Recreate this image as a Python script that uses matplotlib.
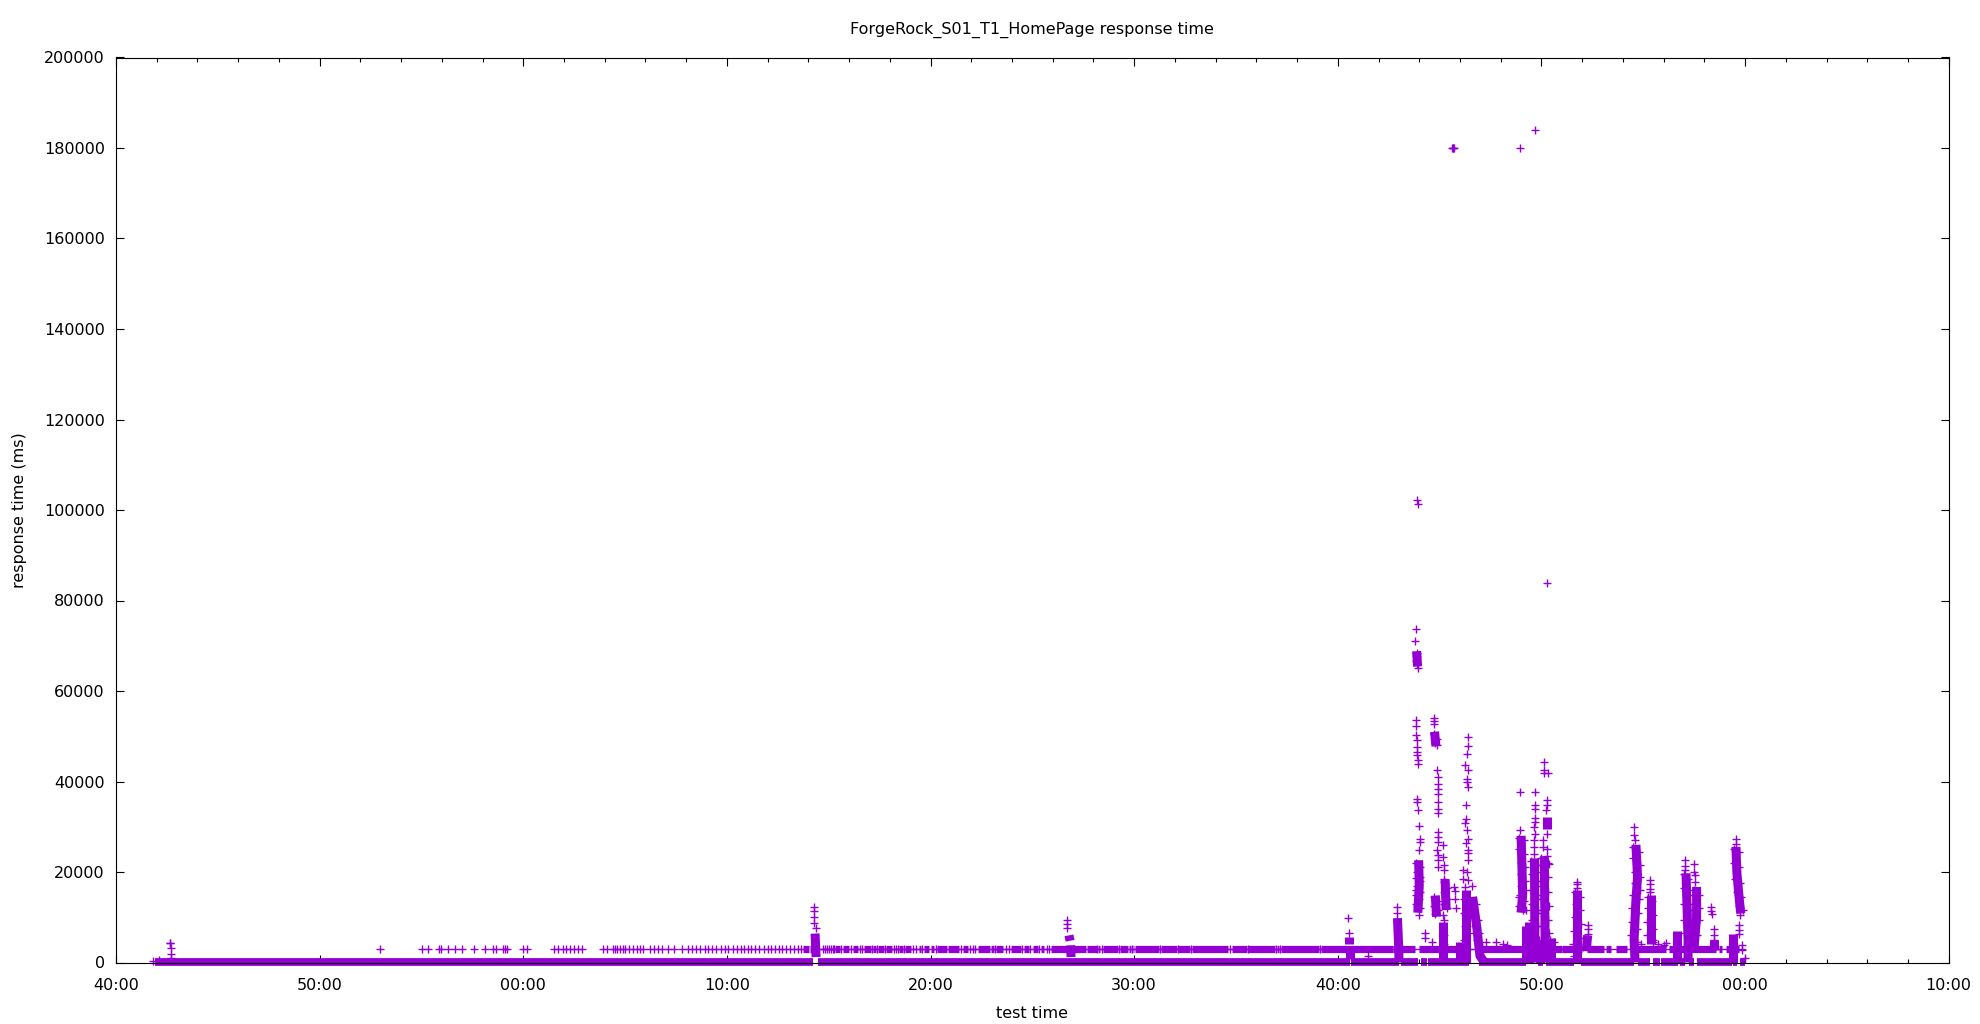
import matplotlib
matplotlib.use('Agg')
import matplotlib.pyplot as plt

PURPLE = '#9400d3'

x_tick_labels = ['40:00', '50:00', '00:00', '10:00', '20:00', '30:00', '40:00', '50:00', '00:00', '10:00']
y_ticks = [0, 20000, 40000, 60000, 80000, 100000, 120000, 140000, 160000, 180000, 200000]

# all times are minutes after the first x tick, values are ms
# solid stretches of the ~0 ms band, marks overlap completely here
base_runs = [(1.9, 34.25), (34.45, 60.6), (60.65, 62.99), (63.1, 63.92), (64.09, 64.36), (64.41, 66.46),
             (66.95, 69.24), (69.81, 70.06), (70.22, 71.6), (71.93, 74.55), (74.76, 75.34), (75.48, 75.81),
             (75.86, 76.71), (76.79, 77.05), (77.25, 77.5), (77.66, 79.38), (79.41, 79.62), (79.75, 80.0)]

# solid stretches of the ~3100 ms band
band_level = 3090
band_runs = [(33.73, 34.05), (34.09, 34.22), (35.33, 35.56), (35.69, 36.02), (36.21, 36.44), (36.75, 37.08),
             (37.16, 37.33), (37.41, 37.73), (37.82, 38.11), (38.47, 38.63), (38.77, 39.04), (39.42, 39.54),
             (39.7, 39.94), (40.03, 40.19), (40.3, 40.81), (40.88, 41.42), (41.61, 41.83), (42.32, 42.92),
             (42.97, 43.13), (43.22, 43.58), (43.95, 44.44), (44.61, 44.82), (45.02, 45.26), (45.43, 45.59),
             (45.92, 47.63), (47.67, 48.16), (48.2, 48.33), (48.46, 49.23), (49.28, 49.72), (49.77, 49.83),
             (49.93, 50.0), (50.05, 51.24), (51.31, 52.09), (52.17, 52.75), (52.83, 54.63), (54.79, 55.53),
             (55.61, 56.92), (57.0, 57.13), (57.2, 59.09), (59.16, 62.73), (62.73, 63.8), (64.0, 65.2),
             (65.3, 66.0), (67.1, 69.1), (69.5, 71.0), (71.0, 72.0), (72.26, 73.08), (73.16, 73.41),
             (73.65, 74.22), (74.47, 76.1), (76.27, 78.56), (78.72, 78.89), (79.05, 79.7)]

# isolated marks on the same band
band_marks = [12.95, 15.04, 15.3, 15.85, 15.95, 16.3, 16.66, 16.97, 17.6, 18.1, 18.5, 18.64, 19.0, 19.08, 19.2,
              20.0, 20.2, 21.5, 21.7, 21.95, 22.1, 22.3, 22.5, 22.7, 22.9, 23.9, 24.1, 24.4, 24.5, 24.6, 24.75,
              24.9, 25.0, 25.2, 25.4, 25.6, 25.75, 25.9, 26.2, 26.4, 26.6, 26.8, 27.1, 27.4, 27.8, 28.1, 28.3,
              28.5, 28.7, 28.9, 29.05, 29.25, 29.45, 29.7, 29.9, 30.05, 30.3, 30.5, 30.7, 30.85, 31.05, 31.2,
              31.4, 31.6, 31.8, 32.0, 32.15, 32.35, 32.55, 32.7, 32.9, 33.1, 33.3, 33.5, 33.65, 34.71, 34.8,
              34.9, 35.0, 35.1, 35.2, 35.28, 35.6, 36.1, 36.55, 36.65, 37.12, 37.37, 37.78, 38.2, 38.3, 38.4,
              38.7, 39.15, 39.3, 39.6, 40.25, 41.5, 41.95, 42.1, 42.2, 43.18, 43.7, 43.85, 44.5, 44.9, 45.35,
              45.7, 45.8, 48.18, 48.4, 49.25, 49.88, 51.27, 52.13, 52.8, 54.7, 55.57, 56.96, 57.17, 59.13]

# stretches of a spike where the marks merge, each one a list of (time, value) corners
columns = [
    [(63.87, 68800), (63.92, 65400)],
    [(63.97, 22600), (64.0, 17000), (63.93, 11000)],
    [(62.93, 9800), (63.0, 2500), (63.0, 0)],
    [(64.75, 51000), (64.82, 47800)],
    [(64.79, 14800), (64.85, 10100)],
    [(65.27, 18400), (65.32, 11600)],
    [(65.15, 9000), (65.15, 500)],
    [(66.3, 16000), (66.3, 0)],
    [(66.0, 4500), (66.0, 0)],
    [(66.62, 14500), (66.82, 8000), (66.98, 1500), (67.2, 0)],
    [(69.0, 28000), (69.05, 20000), (69.08, 15000), (69.0, 11000)],
    [(69.25, 8000), (69.25, 0)],
    [(69.4, 9000), (69.4, 0)],
    [(69.66, 23000), (69.68, 0)],
    [(69.95, 5000), (69.95, 0)],
    [(70.25, 32200), (70.25, 29600)],
    [(70.14, 23500), (70.18, 5000), (70.18, 0)],
    [(70.45, 5500), (70.45, 0)],
    [(71.77, 16000), (71.77, 0)],
    [(72.27, 6000), (72.2, 2500)],
    [(74.64, 26000), (74.72, 18900), (74.64, 13770), (74.55, 5000), (74.6, 0)],
    [(75.36, 14900), (75.36, 4000)],
    [(76.65, 7000), (76.65, 0)],
    [(77.1, 19700), (77.2, 5000), (77.2, 0)],
    [(77.62, 16700), (77.62, 10000), (77.5, 3500)],
    [(78.45, 5000), (78.45, 2800)],
    [(79.55, 25550), (79.6, 19700), (79.72, 13770), (79.79, 10820)],
    [(79.42, 6400), (79.42, 0)],
    [(34.33, 6400), (34.38, 1200)],
    [(46.8, 6000), (46.85, 4800)],
    [(46.88, 3800), (46.9, 1200)],
    [(60.57, 5700), (60.57, 4180)],
    [(60.6, 2700), (60.6, 880)],
]

# single marks that stand clear of the solid stretches
spike_t = [63.87, 63.94, 63.84, 63.81, 63.87, 63.87, 63.84, 63.9, 63.94,
           63.84, 63.84, 63.84, 63.87, 63.9, 63.87, 63.87, 63.92, 63.94,
           63.89, 63.89, 63.94, 63.97, 64.03, 64.03, 63.97, 63.85, 63.85, 63.83, 64.05, 63.97,
           62.89, 62.89, 62.92,
           64.71, 64.71, 64.71, 64.87, 64.9, 64.92, 64.92, 64.92, 64.92, 64.92, 64.92,
           64.9, 64.9, 64.92, 64.85, 64.92, 64.92, 64.92, 65.15, 65.18, 65.23, 65.23, 65.23,
           65.15, 65.23, 65.18, 65.23, 65.2, 64.28, 64.28, 64.61, 65.69, 65.75, 65.75, 65.8,
           66.39, 66.39, 66.33, 66.26, 66.38, 66.36, 66.36, 66.39, 66.29, 66.26, 66.29, 66.33,
           66.38, 66.29, 66.38, 66.41, 66.38, 66.16, 66.33, 66.16, 66.38, 66.59, 66.26,
           68.95, 68.95, 69.25, 68.95, 69.68, 69.68, 69.68, 69.66, 69.66, 69.62, 69.66, 69.62, 69.62, 69.62,
           70.14, 70.14, 70.14, 70.32, 70.25, 70.25, 70.22, 70.25, 70.09, 70.09, 70.25, 70.25, 70.38,
           71.77, 71.77, 71.77, 72.27, 72.27, 72.27,
           74.57, 74.57, 74.6, 75.33, 75.33, 75.33, 75.33, 77.04, 77.04, 77.04,
           77.47, 77.47, 77.55, 77.55, 78.35, 78.35, 78.37, 78.45, 78.45, 78.45,
           79.55, 79.55, 79.71, 79.71, 79.71, 79.84, 79.84, 80.0,
           67.28, 67.77, 68.1, 68.3, 75.5, 75.7, 76.0, 76.1,
           2.64, 2.64, 2.7, 2.7, 2.7, 1.82, 2.1,
           34.3, 34.3, 34.3, 34.3, 34.36,
           46.7, 46.7, 46.7, 60.49, 60.57, 61.5,
           65.6, 65.64, 65.67, 65.7, 68.97, 69.66, 70.25]
spike_v = [102170, 101430, 73800, 71080, 68430, 67690, 66660, 66070, 65190,
           53550, 52220, 50235, 49280, 47660, 46550, 45820, 44860, 43830,
           36240, 35500, 33660, 30200, 27400, 26660, 24820, 18600, 16000, 13000, 19000, 10500,
           12300, 10830, 9600,
           54140, 53400, 52670, 42500, 41000, 39550, 38440, 37340, 35500, 34030, 32930,
           28870, 27770, 26660, 24820, 23700, 22610, 21140, 25920, 23350, 21500, 20350, 18560,
           10500, 9350, 7500, 6000, 4000, 6410, 5520, 4560, 16720, 15840, 14140, 12150,
           49870, 47800, 46040, 43600, 42650, 40660, 40000, 38820, 34770, 30860, 31820, 29240,
           27400, 26300, 24820, 24090, 22610, 20550, 20030, 18410, 18200, 17000, 16720,
           37570, 29240, 11560, 15000, 37570, 34770, 34000, 32000, 31000, 30000, 28500, 27000, 25500, 24000,
           44340, 42650, 41920, 41770, 35870, 34770, 33600, 28500, 27000, 25500, 25000, 23500, 21870,
           17820, 17450, 16500, 8245, 7500, 6400,
           29980, 28130, 27030, 18340, 17300, 16350, 15610, 22610, 21290, 20400,
           21720, 20030, 19300, 17820, 12300, 11410, 10680, 7510, 6040, 4930,
           27400, 26290, 8250, 7150, 6400, 3830, 2720, 1000,
           4600, 4500, 4000, 3900, 4500, 4000, 3800, 4200,
           4340, 4200, 3300, 1835, 1020, 360, 650,
           12300, 11400, 10100, 8800, 7725,
           9500, 8600, 7730, 9860, 6500, 1400,
           180000, 180000, 180000, 180000, 180000, 183870, 83970]

# marks along the ragged edges of the solid stretches
edge_t = [63.86, 64.02, 63.88, 64.04, 63.9, 64.02, 63.86, 64.0, 63.88, 64.02,
          64.7, 64.88, 64.72, 64.9, 64.76, 64.72, 64.88, 64.75, 64.88,
          65.2, 65.38, 65.22, 65.38, 65.22, 65.36,
          66.22, 66.4, 66.2, 66.42, 66.25, 66.42, 66.2, 66.45,
          66.55, 66.78, 66.68, 66.9, 66.72, 66.95, 66.85, 67.08,
          68.9, 69.15, 68.92, 69.15, 68.98, 69.2, 68.98, 69.2, 69.0, 69.2, 68.88, 69.15, 68.88, 69.08,
          69.5, 69.82, 69.55, 69.82, 69.52, 69.82, 69.52, 69.85, 69.55, 69.85, 69.45, 69.9,
          70.0, 70.3, 70.0, 70.32, 69.98, 70.32, 70.0, 70.35, 70.02, 70.3, 70.05, 70.35, 70.42, 70.6,
          71.65, 71.9, 71.68, 71.9, 71.65, 71.92, 71.62, 71.95, 71.55, 72.05, 71.6,
          74.5, 74.78, 74.52, 74.82, 74.58, 74.85, 74.6, 74.85, 74.5, 74.78, 74.45, 74.72, 74.45, 74.68,
          74.42, 74.7, 74.9,
          75.25, 75.45, 75.22, 75.48, 75.2, 75.48, 75.18, 75.5,
          77.0, 77.22, 76.98, 77.25, 77.0, 77.3, 77.02, 77.35, 77.05, 77.4, 77.1,
          77.5, 77.75, 77.5, 77.75, 77.52, 77.72, 77.42, 77.65,
          79.45, 79.68, 79.48, 79.7, 79.52, 79.75, 79.6, 79.82, 79.68, 79.88, 79.75]
edge_v = [22000, 21000, 20000, 18000, 17000, 15500, 15000, 14000, 12500, 12000,
          14500, 13500, 12500, 11500, 10800, 50500, 49500, 48500, 48000,
          17800, 16500, 15500, 14000, 13000, 12000,
          14000, 13500, 11000, 10000, 8000, 6500, 5000, 3000,
          13000, 13000, 11000, 9500, 8000, 6500, 5000, 3500,
          27500, 27000, 25000, 24000, 22000, 21000, 19500, 18000, 17000, 16000, 14500, 13500, 12500, 11500,
          22500, 21500, 19500, 18000, 16000, 15000, 13000, 11500, 9500, 8000, 6000, 5000,
          23000, 22000, 20000, 19000, 17000, 15500, 14000, 12500, 11000, 9500, 8000, 6500, 5000, 4500,
          15500, 14500, 13000, 11500, 10000, 8500, 7000, 5500, 4000, 3500, 1500,
          25500, 24500, 23000, 21500, 20000, 19000, 17500, 16000, 15000, 14000, 12000, 11000, 9000, 7500,
          6000, 4500, 4000,
          14500, 13500, 12000, 10500, 9000, 7500, 6000, 5000,
          19500, 18500, 16500, 15000, 13000, 11500, 9500, 8000, 6500, 5000, 3500,
          16000, 15000, 13000, 12000, 10500, 9500, 7500, 6000,
          25000, 24500, 22000, 21000, 18500, 17500, 15500, 14500, 12500, 11500, 10500]


def main():
    fig = plt.figure(figsize=(19.8, 10.24), dpi=100)
    ax = fig.add_axes([116 / 1980, 1 - 962.5 / 1024, (1948.7 - 116) / 1980, 905 / 1024])

    for start, end in base_runs:
        ax.plot([start, end], [50, 50], color=PURPLE, lw=5.6, solid_capstyle='butt', clip_on=False)
    ax.plot([34.5, 80.0], [band_level, band_level], color=PURPLE, lw=1.0, clip_on=False)
    for start, end in band_runs:
        ax.plot([start, end], [band_level, band_level], color=PURPLE, lw=5.2, solid_capstyle='butt')
    for col in columns:
        ax.plot([p[0] for p in col], [p[1] for p in col], color=PURPLE, lw=6.5,
                solid_capstyle='butt', clip_on=False)

    ax.plot(band_marks, [band_level] * len(band_marks), '+', color=PURPLE, ms=6.2, mew=1.0)
    ax.plot(spike_t, spike_v, '+', color=PURPLE, ms=6.2, mew=1.0, clip_on=False)
    ax.plot(edge_t, edge_v, '+', color=PURPLE, ms=6.2, mew=1.0, clip_on=False)

    ax.set_xlim(0, 90)
    ax.set_ylim(0, 200000)
    ax.set_xticks(range(0, 91, 10))
    ax.set_xticklabels(x_tick_labels)
    ax.set_xticks(range(0, 91, 2), minor=True)
    ax.set_yticks(y_ticks)
    ax.tick_params(axis='both', which='major', direction='in', length=5.5, width=0.8,
                   top=True, right=True, labelsize=11.5, pad=8)
    ax.tick_params(axis='x', which='minor', direction='in', length=3, width=0.8, top=True)
    ax.tick_params(axis='x', which='major', pad=11)

    ax.set_title('ForgeRock_S01_T1_HomePage response time', fontsize=11.5, pad=17.4)
    ax.set_xlabel('test time', fontsize=11.5, labelpad=9.5)
    ax.set_ylabel('response time (ms)', fontsize=11.5, labelpad=11.8)

    fig.savefig('out.png', dpi=100)


if __name__ == '__main__':
    main()
